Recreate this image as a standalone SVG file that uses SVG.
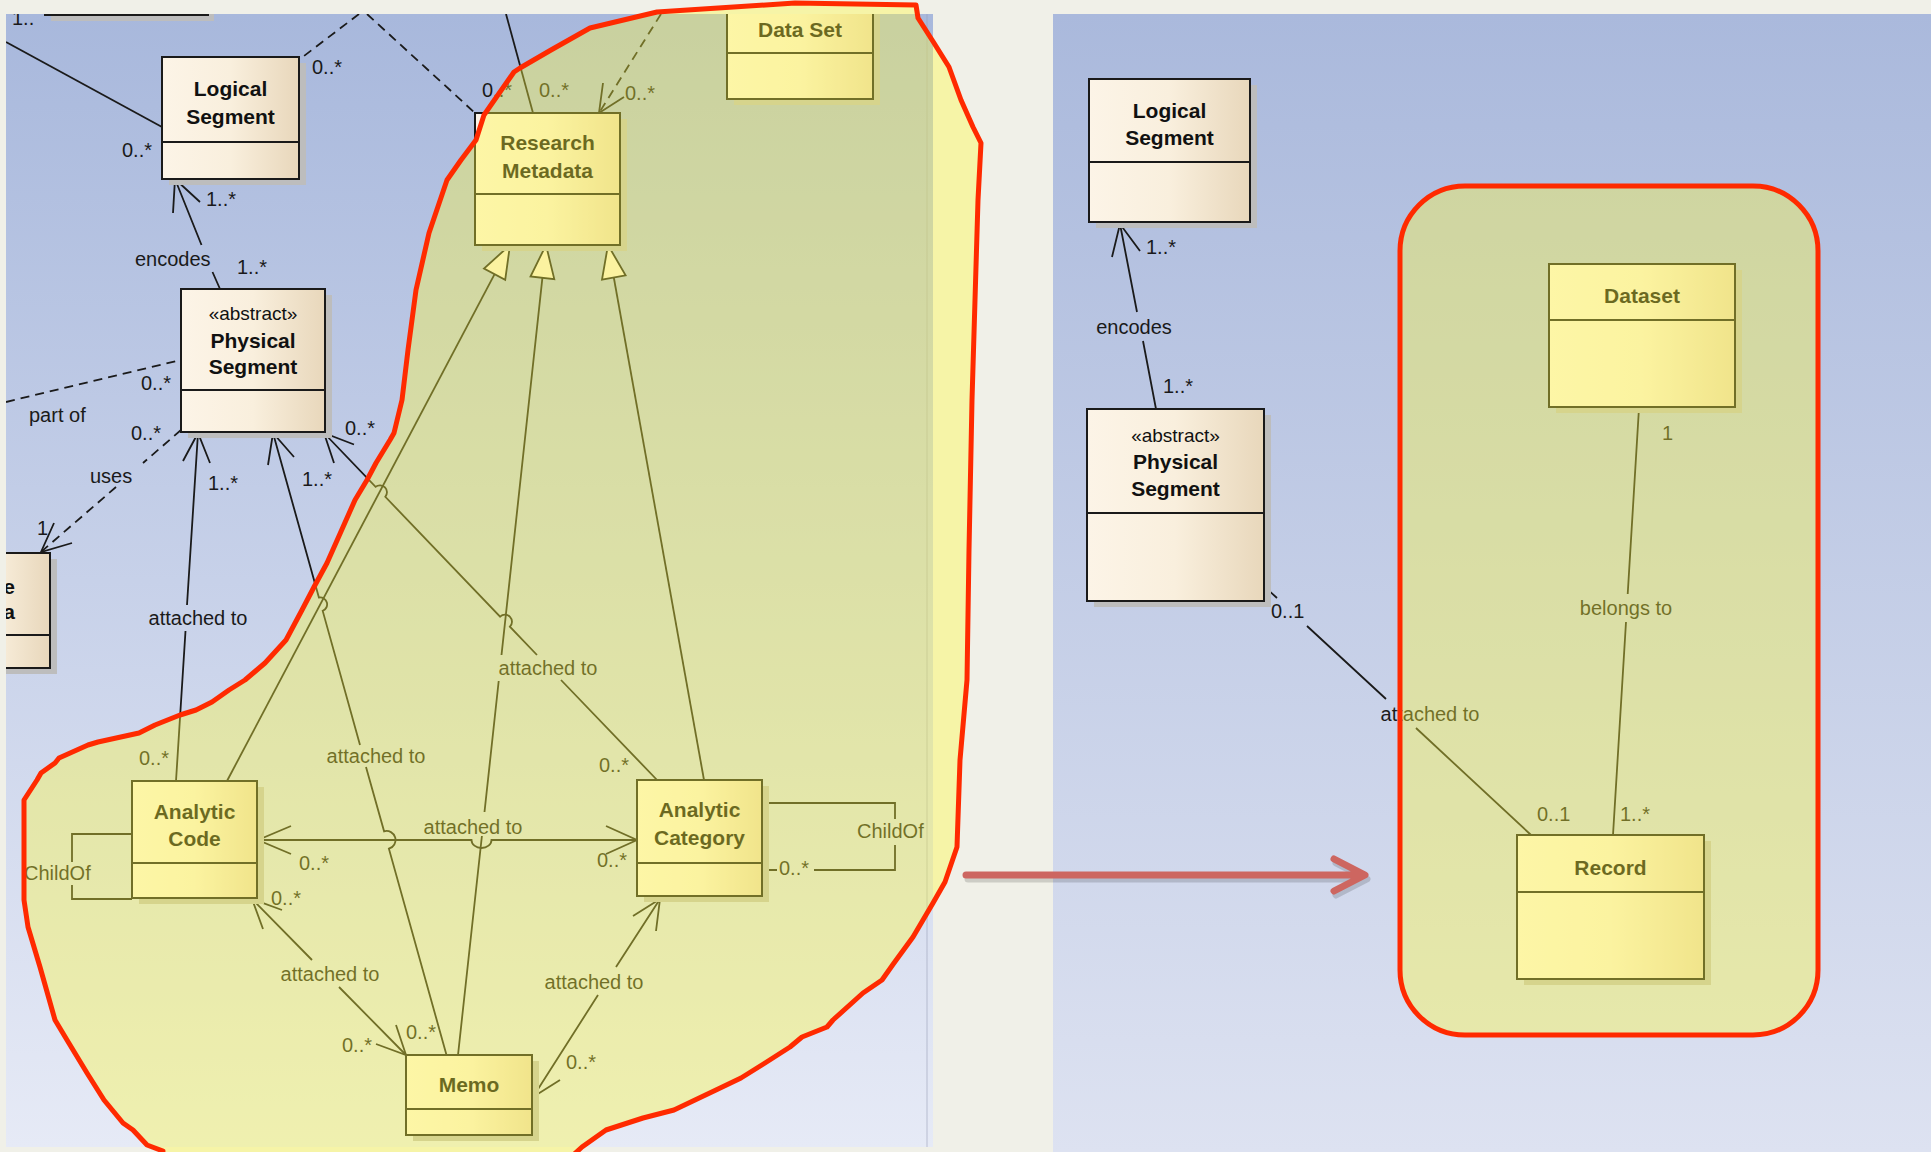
<svg xmlns="http://www.w3.org/2000/svg" width="1931" height="1152" viewBox="0 0 1931 1152">
<defs>
<linearGradient id="panelL" x1="0" y1="0" x2="0" y2="1"><stop offset="0" stop-color="#a8b8dc"/><stop offset="1" stop-color="#e6eaf6"/></linearGradient>
<linearGradient id="panelR" x1="0" y1="0" x2="0" y2="1"><stop offset="0" stop-color="#aab9dc"/><stop offset="1" stop-color="#dde2f1"/></linearGradient>
<linearGradient id="cls" x1="0" y1="0" x2="1" y2="0"><stop offset="0" stop-color="#fcf4e7"/><stop offset="0.5" stop-color="#f9efdd"/><stop offset="1" stop-color="#e8d7bb"/></linearGradient>
<clipPath id="clipL"><rect x="6" y="14" width="927" height="1133"/></clipPath>
</defs>
<style>
.box{fill:url(#cls);stroke:#1a1a1a;stroke-width:2}
.sh{fill:#bdbdbd}
.dv{stroke:#1a1a1a;stroke-width:2}
.ln{fill:none;stroke:#1a1a1a;stroke-width:1.8}
.dash{stroke-dasharray:9 6}
.tri{fill:#f8eedd;stroke:#1a1a1a;stroke-width:1.8}
.name{font-family:'Liberation Sans',Arial,sans-serif;font-size:21px;font-weight:bold;fill:#111;text-anchor:middle}
.st{font-family:'Liberation Sans',Arial,sans-serif;font-size:19px;fill:#111;text-anchor:middle}
.lb{font-family:'Liberation Sans',Arial,sans-serif;font-size:20px;fill:#1a1a1a}
.lbm{font-family:'Liberation Sans',Arial,sans-serif;font-size:20px;fill:#1a1a1a;text-anchor:middle}
.ov{fill:rgb(255,250,60);fill-opacity:0.38;stroke:#ff2a00;stroke-width:5;stroke-linejoin:round}
.red{fill:none;stroke:#cd6660;stroke-width:7;stroke-linecap:round;stroke-linejoin:round}
</style>
<rect x="0" y="0" width="1931" height="1152" fill="#f0f0e8"/>
<rect x="6" y="14" width="927" height="1133" fill="url(#panelL)"/>
<line x1="927" y1="14" x2="927" y2="1147" stroke="#9aa0b8" stroke-width="1" opacity="0.6"/>
<rect x="1053" y="14" width="878" height="1138" fill="url(#panelR)"/>

<g clip-path="url(#clipL)">
<g id="connectors-left">
<path class="ln" d="M6,42 L162,127"/>
<path class="ln dash" d="M359,14 L300,59"/>
<path class="ln dash" d="M367,14 L475,113"/>
<path class="ln" d="M506,14 L533,113"/>
<path class="ln dash" d="M661,14 L599,113"/>
<path class="ln" d="M624,97 L599,113 L603,83"/>
<path class="ln" d="M494.6,274.2 L227,781"/>
<path class="tri" d="M510,245 L505.2,279.8 L484,268.6 Z"/>
<path class="ln" d="M542.4,277.8 L501.5,655 M498.7,681 L484.5,812 M481.9,836 L458,1055"/>
<path class="tri" d="M546,245 L554.3,279.1 L530.5,276.5 Z"/>
<path class="ln" d="M613.8,277.5 L704,780"/>
<path class="tri" d="M608,245 L625.6,275.4 L602,279.6 Z"/>
<path class="ln" d="M220,289 L212.5,272 M201.5,245 L175,179"/>
<path class="ln" d="M173,213 L175,179 L200,202"/>
<path class="ln dash" d="M6,402 L181,360"/>
<path class="ln dash" d="M181,430 L143,463 M116,487 L41,552"/>
<path class="ln" d="M72,543 L41,552 L54,523"/>
<path class="ln" d="M198,433 L187,605 M185.5,631 L176,781"/>
<path class="ln" d="M183,461 L198,433 L210,463"/>
<path class="ln" d="M273,433 L318.9,597.5 A7,7 0 0 1 322.7,610.9 L360,745 M366,767 L384.1,831.3 A9,9 0 0 1 388.9,848.7 L446.5,1055"/>
<path class="ln" d="M268,465 L273,433 L294,457"/>
<path class="ln" d="M324,433 L375.6,486.8 A7,7 0 0 1 385.3,496.8 L500.1,616.7 A7,7 0 0 1 509.9,626.7 L537,655 M561,680 L658,781"/>
<path class="ln" d="M334,463 L324,433 L354,444.5"/>
<path class="ln" d="M258,840 L471.5,840 A10,8 0 0 0 491.5,840 L637,840"/>
<path class="ln" d="M291,826 L258,840 L291,854 M606,826 L637,840 L606,854"/>
<path class="ln" d="M132,834 L72,834 L72,862 M72,885 L72,899 L132,899"/>
<path class="ln" d="M762,803 L895,803 L895,819 M895,845 L895,870 L814,870 M777,870 L762,870"/>
<path class="ln" d="M252,899 L312,960 M339,987 L406,1055"/>
<path class="ln" d="M263,929 L252,899 L282,910 M396,1025 L406,1055 L376,1044"/>
<path class="ln" d="M533,1097 L598,995 M616,967 L660,899"/>
<path class="ln" d="M633,916 L660,899 L656,931 M560,1080 L533,1097 L537,1065"/>
<text class="lb" x="12" y="25">1..</text>
<text class="lb" x="122" y="157">0..*</text>
<text class="lb" x="312" y="74">0..*</text>
<text class="lb" x="482" y="97">0..*</text>
<text class="lb" x="539" y="97">0..*</text>
<text class="lb" x="625" y="100">0..*</text>
<text class="lb" x="206" y="206">1..*</text>
<text class="lb" x="237" y="274">1..*</text>
<text class="lb" x="135" y="266">encodes</text>
<text class="lb" x="141" y="390">0..*</text>
<text class="lb" x="29" y="422">part of</text>
<text class="lb" x="131" y="440">0..*</text>
<text class="lb" x="345" y="435">0..*</text>
<text class="lb" x="90" y="483">uses</text>
<text class="lb" x="37" y="535">1</text>
<text class="lb" x="208" y="490">1..*</text>
<text class="lb" x="302" y="486">1..*</text>
<text class="lbm" x="198" y="625">attached to</text>
<text class="lbm" x="376" y="763">attached to</text>
<text class="lbm" x="548" y="675">attached to</text>
<text class="lb" x="139" y="765">0..*</text>
<text class="lb" x="599" y="772">0..*</text>
<text class="lbm" x="473" y="834">attached to</text>
<text class="lb" x="299" y="870">0..*</text>
<text class="lb" x="597" y="867">0..*</text>
<text class="lb" x="24" y="880">ChildOf</text>
<text class="lb" x="857" y="838">ChildOf</text>
<text class="lb" x="779" y="875">0..*</text>
<text class="lb" x="271" y="905">0..*</text>
<text class="lbm" x="330" y="981">attached to</text>
<text class="lbm" x="594" y="989">attached to</text>
<text class="lb" x="342" y="1052">0..*</text>
<text class="lb" x="406" y="1039">0..*</text>
<text class="lb" x="566" y="1069">0..*</text>
</g>

<g id="node-topleft">
<rect class="sh" x="51" y="-54" width="163" height="75"/>
<rect class="box" x="45" y="-60" width="163" height="75"/>
</g>
<g id="node-logical-segment-l">
<rect class="sh" x="169" y="63" width="137" height="122"/>
<rect class="box" x="162" y="57" width="137" height="122"/>
<line class="dv" x1="162" y1="142" x2="299" y2="142"/>
<text class="name" x="230.5" y="96">Logical</text>
<text class="name" x="230.5" y="124">Segment</text>
</g>
<g id="node-physical-segment-l">
<rect class="sh" x="188" y="295" width="144" height="143"/>
<rect class="box" x="181" y="289" width="144" height="143"/>
<line class="dv" x1="181" y1="390" x2="325" y2="390"/>
<text class="st" x="253" y="320">«abstract»</text>
<text class="name" x="253" y="348">Physical</text>
<text class="name" x="253" y="374">Segment</text>
</g>
<g id="node-source-data">
<rect class="sh" x="-53" y="559" width="110" height="115"/>
<rect class="box" x="-60" y="553" width="110" height="115"/>
<line class="dv" x1="-60" y1="635" x2="50" y2="635"/>
<text class="name" x="15" y="594" style="text-anchor:end">e</text>
<text class="name" x="15" y="619" style="text-anchor:end">a</text>
</g>
<g id="node-research-metadata">
<rect class="sh" x="482" y="119" width="145" height="132"/>
<rect class="box" x="475" y="113" width="145" height="132"/>
<line class="dv" x1="475" y1="194" x2="620" y2="194"/>
<text class="name" x="547.5" y="150">Research</text>
<text class="name" x="547.5" y="178">Metadata</text>
</g>
<g id="node-data-set">
<rect class="sh" x="734" y="-14" width="146" height="119"/>
<rect class="box" x="727" y="-20" width="146" height="119"/>
<line class="dv" x1="727" y1="53" x2="873" y2="53"/>
<text class="name" x="800" y="37">Data Set</text>
</g>
<g id="node-analytic-code">
<rect class="sh" x="139" y="787" width="125" height="117"/>
<rect class="box" x="132" y="781" width="125" height="117"/>
<line class="dv" x1="132" y1="863" x2="257" y2="863"/>
<text class="name" x="194.5" y="819">Analytic</text>
<text class="name" x="194.5" y="846">Code</text>
</g>
<g id="node-analytic-category">
<rect class="sh" x="644" y="786" width="125" height="116"/>
<rect class="box" x="637" y="780" width="125" height="116"/>
<line class="dv" x1="637" y1="863" x2="762" y2="863"/>
<text class="name" x="699.5" y="817">Analytic</text>
<text class="name" x="699.5" y="845">Category</text>
</g>
<g id="node-memo">
<rect class="sh" x="413" y="1061" width="126" height="80"/>
<rect class="box" x="406" y="1055" width="126" height="80"/>
<line class="dv" x1="406" y1="1109" x2="532" y2="1109"/>
<text class="name" x="469" y="1092">Memo</text>
</g>
</g>

<g id="highlight-left">
<path class="ov" d="M657,12 L795,3 L916,5 L918,18 L934,43 L949,67 L961,100 L973,127 L981,143 L978,200 L975,300 L972,400 L969,550 L967,680 L960,760 L957,847 L945,882 L933,903 L923,920 L913,937 L894,963 L882,980 L863,993 L833,1020 L827,1027 L802,1037 L790,1047 L765,1063 L741,1078 L716,1090 L674,1110 L643,1118 L606,1130 L582,1147 L570,1158 L565,1172 L160,1172 L163,1151 L147,1145 L133,1130 L123,1123 L104,1100 L87,1073 L67,1040 L55,1020 L40,967 L28,927 L24,900 L24,860 L24,800 L37,780 L41,773 L55,763 L59,758 L88,745 L98,742 L139,733 L155,725 L180,715 L196,710 L212,702 L229,690 L245,680 L265,663 L286,640 L302,610 L314,587 L327,563 L343,527 L355,500 L367,480 L376,463 L390,440 L394,433 L402,400 L408,350 L416,290 L429,233 L447,180 L461,160 L476,140 L484,115 L514,72 L520,68 L551,50 L590,28 Z"/>
</g>

<g id="connectors-right">
<path class="ln" d="M1156,409 L1143,341 M1137,312 L1120,224"/>
<path class="ln" d="M1112,257 L1120,224 L1140,251"/>
<path class="ln" d="M1266,588 L1277,598 M1307,626 L1386,699 M1416,728 L1531,835"/>
<path class="ln" d="M1639,408 L1627.7,594 M1626,622 L1613,835"/>
<text class="lb" x="1146" y="254">1..*</text>
<text class="lbm" x="1134" y="334">encodes</text>
<text class="lb" x="1163" y="393">1..*</text>
<text class="lb" x="1271" y="618">0..1</text>
<text class="lbm" x="1430" y="721">attached to</text>
<text class="lb" x="1662" y="440">1</text>
<text class="lbm" x="1626" y="615">belongs to</text>
<text class="lb" x="1537" y="821">0..1</text>
<text class="lb" x="1620" y="821">1..*</text>
</g>
<g id="node-logical-segment-r">
<rect class="sh" x="1096" y="85" width="161" height="143"/>
<rect class="box" x="1089" y="79" width="161" height="143"/>
<line class="dv" x1="1089" y1="162" x2="1250" y2="162"/>
<text class="name" x="1169.5" y="118">Logical</text>
<text class="name" x="1169.5" y="145">Segment</text>
</g>
<g id="node-physical-segment-r">
<rect class="sh" x="1094" y="415" width="177" height="192"/>
<rect class="box" x="1087" y="409" width="177" height="192"/>
<line class="dv" x1="1087" y1="513" x2="1264" y2="513"/>
<text class="st" x="1175.5" y="442">«abstract»</text>
<text class="name" x="1175.5" y="469">Physical</text>
<text class="name" x="1175.5" y="496">Segment</text>
</g>
<g id="node-dataset">
<rect class="sh" x="1556" y="270" width="186" height="143"/>
<rect class="box" x="1549" y="264" width="186" height="143"/>
<line class="dv" x1="1549" y1="320" x2="1735" y2="320"/>
<text class="name" x="1642" y="303">Dataset</text>
</g>
<g id="node-record">
<rect class="sh" x="1524" y="841" width="187" height="144"/>
<rect class="box" x="1517" y="835" width="187" height="144"/>
<line class="dv" x1="1517" y1="892" x2="1704" y2="892"/>
<text class="name" x="1610.5" y="875">Record</text>
</g>
<g id="highlight-right">
<rect class="ov" x="1400" y="186" width="418" height="849" rx="65" ry="65"/>
</g>

<g id="transform-arrow">
<path d="M968,879 L1364,879 M1336,863 L1367,879 L1336,895" fill="none" stroke="#000" stroke-opacity="0.15" stroke-width="7" stroke-linecap="round" stroke-linejoin="round"/>
<path class="red" d="M966,875 L1362,875 M1334,859 L1365,875 L1334,891"/>
</g>
</svg>
